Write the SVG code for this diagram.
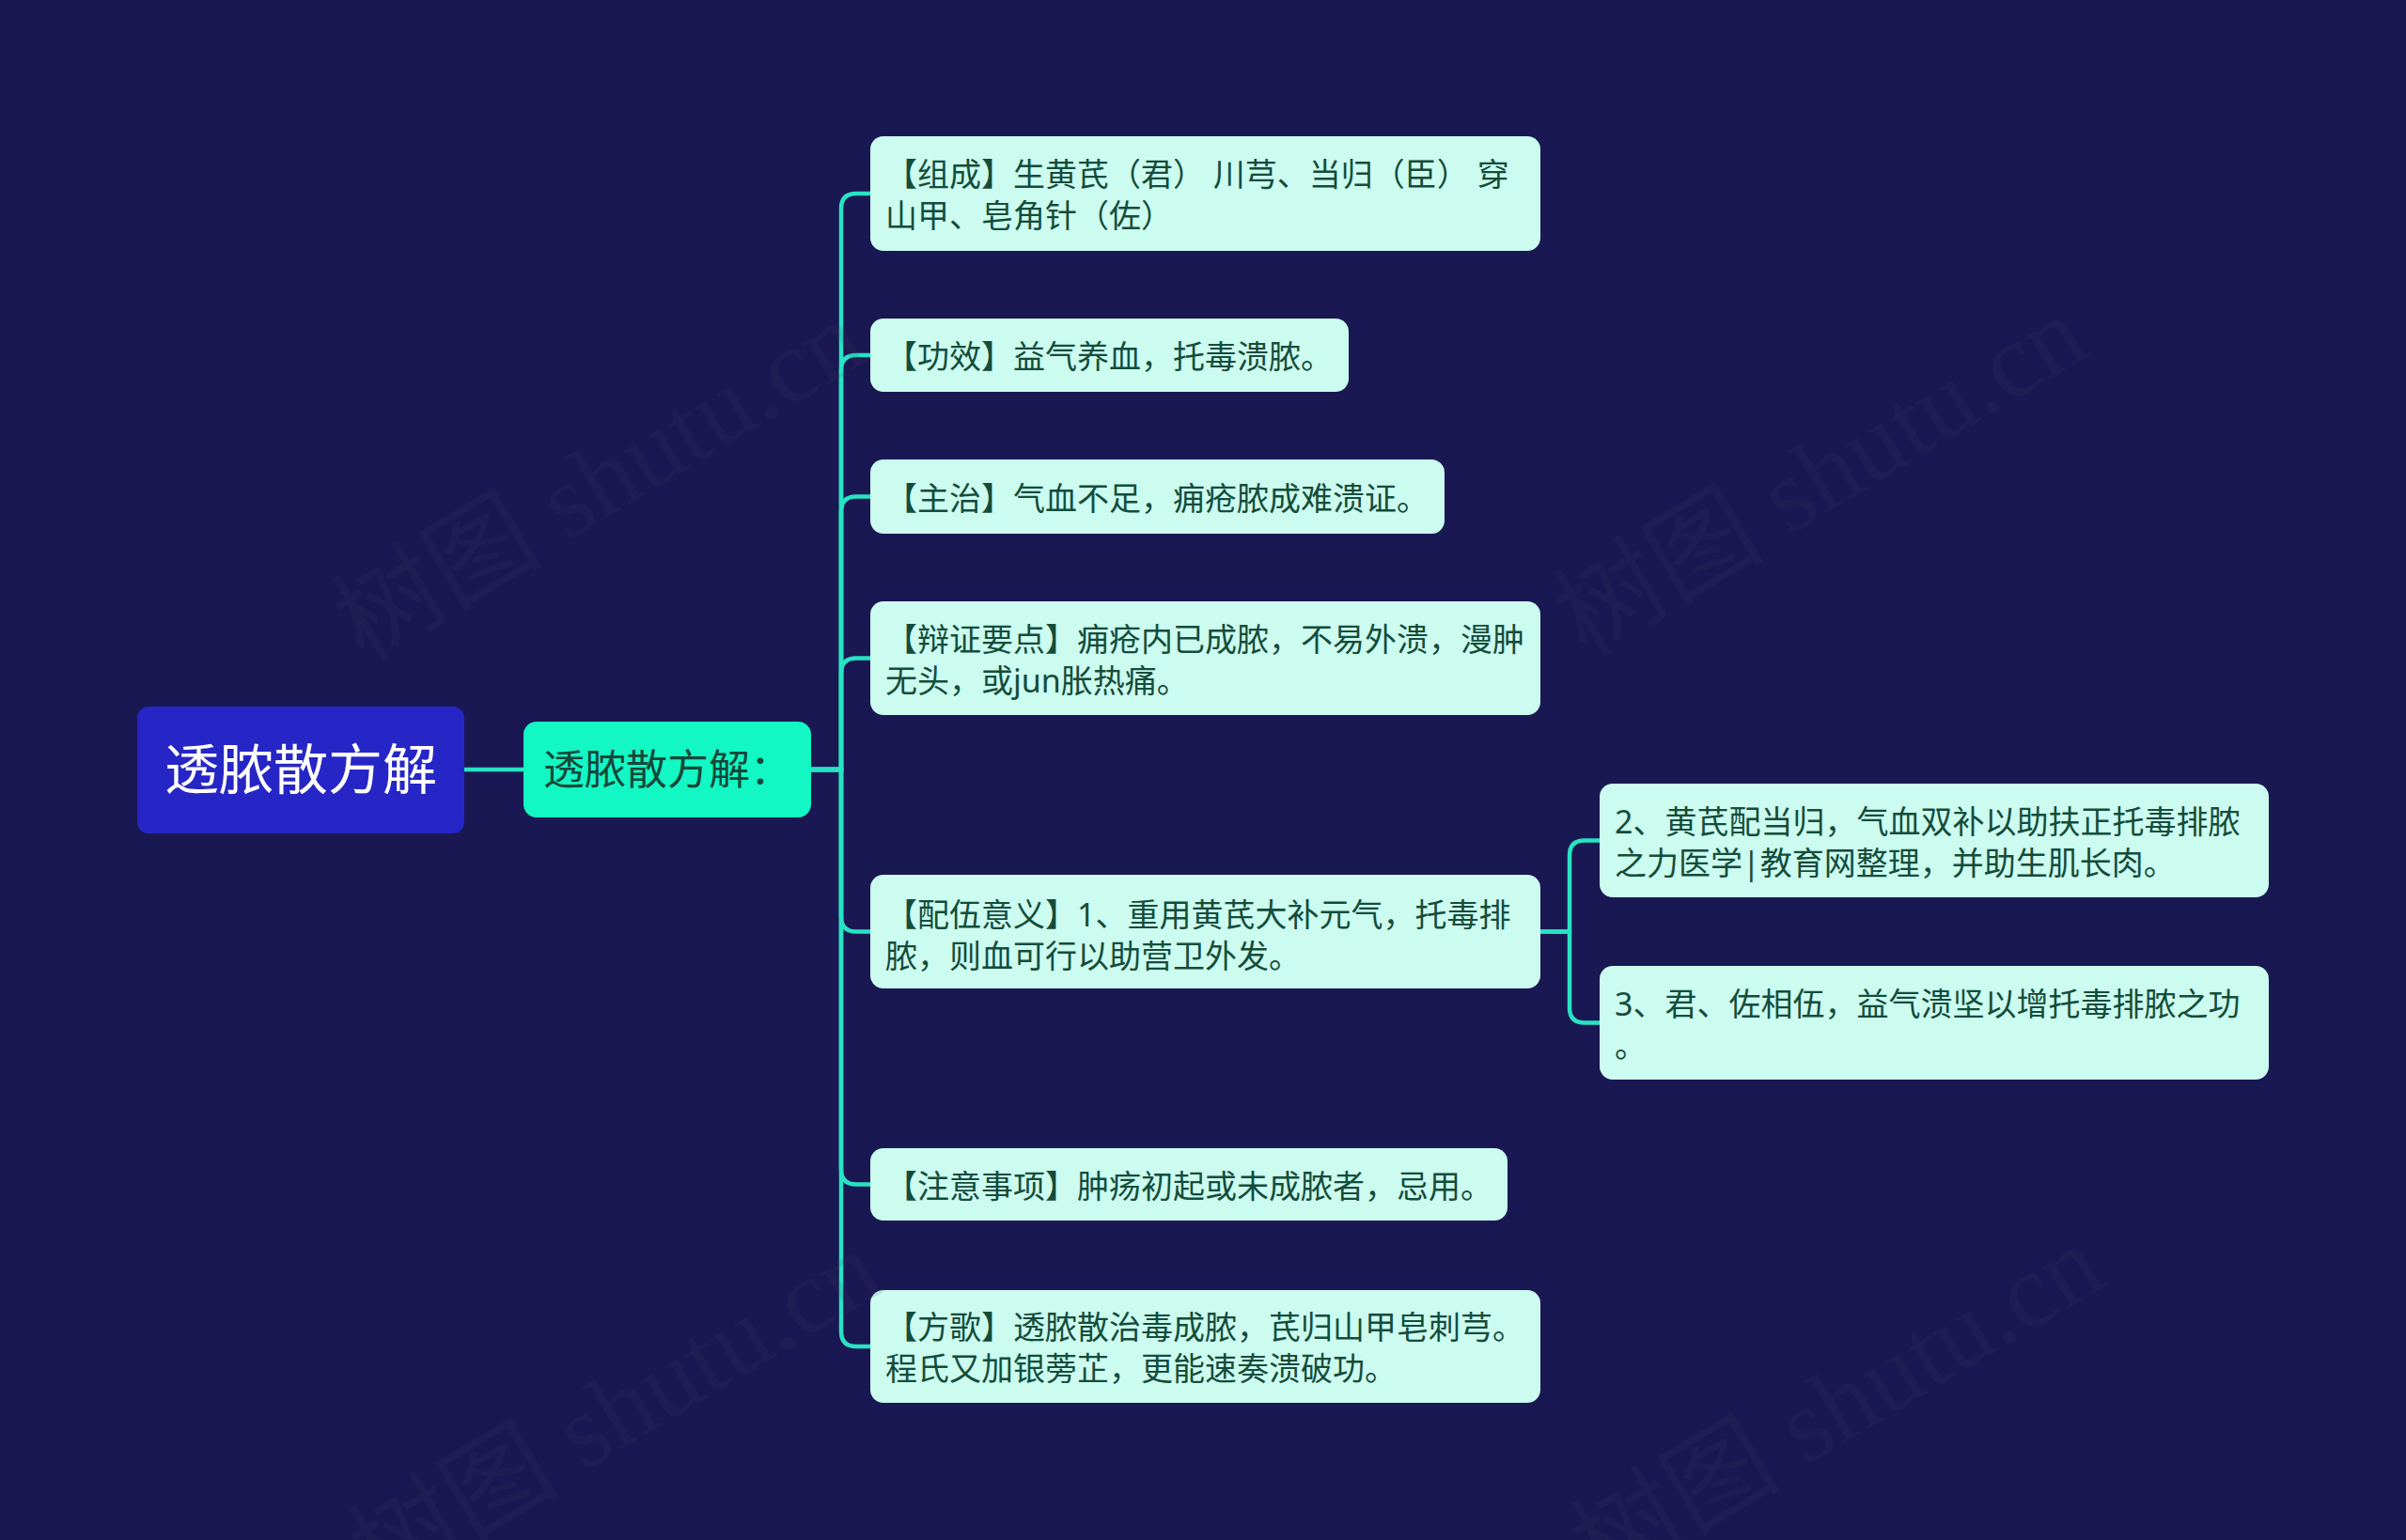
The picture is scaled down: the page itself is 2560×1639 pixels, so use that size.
<svg xmlns="http://www.w3.org/2000/svg" width="2560" height="1639" viewBox="0 0 2560 1639">
<style>
.bg{fill:#1a1852}
.root rect{fill:#2626c6}
.root text{fill:#ffffff;font-size:58px;font-family:"Noto Sans","Noto Sans CJK SC",sans-serif}
.center rect{fill:#12f7c3}
.center text{fill:#15473a;font-size:44px;font-family:"Noto Sans","Noto Sans CJK SC",sans-serif}
.leaf rect{fill:#ccfbef}
.leaf text{fill:#134d3b;font-size:34px;font-family:"Noto Sans","Noto Sans CJK SC",sans-serif}
.conn path{fill:none;stroke:#27e3c3;stroke-width:4.5}
.wm text{fill:#404060;opacity:0.13;font-size:112px;font-family:"Liberation Serif","Noto Sans CJK SC",serif}
</style>
<rect class="bg" x="0" y="0" width="2560" height="1639"/>
<g id="connectors" class="conn">
<path d="M494 819 H557"/>
<path d="M863 819 H895 V222 Q895 206 911 206 H926"/>
<path d="M863 819 H895 V394 Q895 378 911 378 H926"/>
<path d="M863 819 H895 V544.5 Q895 528.5 911 528.5 H926"/>
<path d="M863 819 H895 V716.5 Q895 700.5 911 700.5 H926"/>
<path d="M863 819 H895 V975.5 Q895 991.5 911 991.5 H926"/>
<path d="M863 819 H895 V1244.5 Q895 1260.5 911 1260.5 H926"/>
<path d="M863 819 H895 V1417 Q895 1433 911 1433 H926"/>
<path d="M1639 991.5 H1670 V910.5 Q1670 894.5 1686 894.5 H1702"/>
<path d="M1639 991.5 H1670 V1072.5 Q1670 1088.5 1686 1088.5 H1702"/>
</g>
<g id="root" class="root">
<rect x="146" y="752" width="348" height="135" rx="12"/>
<text x="320" y="840" text-anchor="middle">透脓散方解</text>
</g>
<g id="center" class="center">
<rect x="557" y="768" width="306" height="102" rx="14"/>
<text x="578" y="835">透脓散方解：</text>
</g>
<g id="n1" class="leaf">
<rect x="926" y="145" width="713" height="122" rx="14"/>
<text x="942" y="198">【组成】生黄芪（君） 川芎、当归（臣） 穿<tspan x="942" dy="44">山甲、皂角针（佐）</tspan></text>
</g>
<g id="n2" class="leaf">
<rect x="926" y="339" width="509" height="78" rx="14"/>
<text x="942" y="392">【功效】益气养血，托毒溃脓。</text>
</g>
<g id="n3" class="leaf">
<rect x="926" y="489" width="611" height="79" rx="14"/>
<text x="942" y="542.5">【主治】气血不足，痈疮脓成难溃证。</text>
</g>
<g id="n4" class="leaf">
<rect x="926" y="640" width="713" height="121" rx="14"/>
<text x="942" y="692.5">【辩证要点】痈疮内已成脓，不易外溃，漫肿<tspan x="942" dy="44">无头，或jun胀热痛。</tspan></text>
</g>
<g id="n5" class="leaf">
<rect x="926" y="931" width="713" height="121" rx="14"/>
<text x="942" y="985.5">【配伍意义】1、重用黄芪大补元气，托毒排<tspan x="942" dy="44">脓，则血可行以助营卫外发。</tspan></text>
</g>
<g id="n6" class="leaf">
<rect x="926" y="1222" width="678" height="77" rx="14"/>
<text x="942" y="1274.5">【注意事项】肿疡初起或未成脓者，忌用。</text>
</g>
<g id="n7" class="leaf">
<rect x="926" y="1373" width="713" height="120" rx="14"/>
<text x="942" y="1425">【方歌】透脓散治毒成脓，芪归山甲皂刺芎。<tspan x="942" dy="44">程氏又加银蒡芷，更能速奏溃破功。</tspan></text>
</g>
<g id="n8" class="leaf">
<rect x="1702" y="834" width="712" height="121" rx="14"/>
<text x="1718" y="886.5">2、黄芪配当归，气血双补以助扶正托毒排脓<tspan x="1718" dy="44">之力医学|教育网整理，并助生肌长肉。</tspan></text>
</g>
<g id="n9" class="leaf">
<rect x="1702" y="1028" width="712" height="121" rx="14"/>
<text x="1718" y="1080.5">3、君、佐相伍，益气溃坚以增托毒排脓之功<tspan x="1718" dy="44">。</tspan></text>
</g>
<g class="wm">
<text transform="translate(387,706) rotate(-31)">树图 shutu.cn</text>
<text transform="translate(1687,700) rotate(-31)">树图 shutu.cn</text>
<text transform="translate(405,1696) rotate(-31)">树图 shutu.cn</text>
<text transform="translate(1705,1690) rotate(-31)">树图 shutu.cn</text>
</g>
</svg>
